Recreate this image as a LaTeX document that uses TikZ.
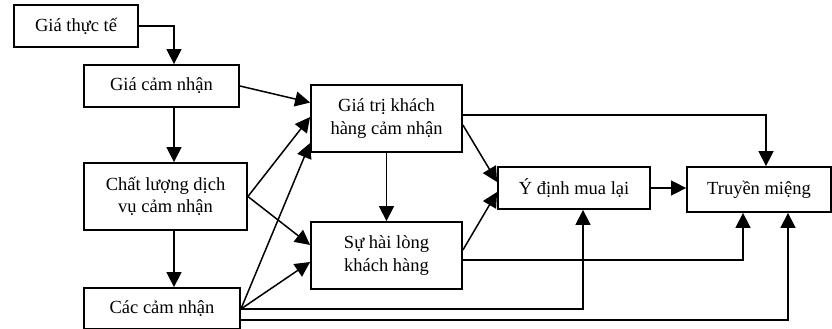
\documentclass[tikz,border=0pt]{standalone}
\usepackage{fontspec}
\setmainfont{Liberation Serif}
\usetikzlibrary{arrows.meta}
\begin{document}
\begin{tikzpicture}[x=1pt,y=-1pt,
  box/.style={draw,line width=1.8pt,inner sep=0pt,align=center,
    font=\fontsize{18.5}{22.2}\selectfont},
  arr/.style={line width=1.5pt,-{Triangle[length=15pt,width=15pt]}}]
\useasboundingbox (0,0) rectangle (832,329);
\coordinate (colx) at (174,0);
\node[box,name=thucte,minimum width=124pt,minimum height=42pt] at (76,26){Giá thực tế};
\node[box,name=gcn,minimum width=155pt,minimum height=42pt] at (161.5,86){Giá cảm nhận};
\node[box,name=cl,minimum width=163pt,minimum height=67pt] at (165.5,196.5){Chất lượng dịch\\vụ cảm nhận};
\node[box,name=ccn,minimum width=156pt,minimum height=41pt] at (162,308.5){Các cảm nhận};
\node[box,name=gtri,minimum width=151pt,minimum height=67pt] at (386.5,118.5){Giá trị khách\\hàng cảm nhận};
\node[box,name=hl,minimum width=151pt,minimum height=67pt] at (386.5,255.5){Sự hài lòng\\khách hàng};
\node[box,name=ydinh,minimum width=152pt,minimum height=42pt] at (574,188){Ý định mua lại};
\node[box,name=tm,minimum width=144pt,minimum height=45pt] at (759,189.5){Truyền miệng};
\draw[arr] (thucte.east) -| (gcn.north -| colx);
\draw[arr] (gcn.south -| colx) -- (cl.north -| colx);
\draw[arr] (cl.south -| colx) -- (ccn.north -| colx);
\draw[arr] (gcn.east) -- ([yshift=16pt]gtri.west);
\draw[arr] (cl.east) -- ([yshift=1.5pt]gtri.west);
\draw[arr] (cl.east) -- ([yshift=10.5pt]hl.west);
\draw[arr] ([yshift=-0.5pt]ccn.east) -- ([yshift=-24.5pt]gtri.west);
\draw[arr] ([yshift=-0.5pt]ccn.east) -- ([yshift=-6.5pt]hl.west);
\draw[arr] (gtri.south) -- (hl.north);
\draw[arr] ([yshift=-6.5pt]gtri.east) -- ([yshift=6pt]ydinh.west);
\draw[arr] ([yshift=5.5pt]hl.east) -- ([yshift=-4pt]ydinh.west);
\draw[arr] (ydinh.east) -- (ydinh.east -| tm.west);
\draw[arr] ([yshift=3.5pt]gtri.east) -| ([xshift=7pt]tm.north);
\draw[arr] ([yshift=-4.5pt]hl.east) -| ([xshift=-16pt]tm.south);
\draw[arr] ([yshift=-0.5pt]ccn.east) -| ([xshift=9pt]ydinh.south);
\draw[arr] ([yshift=-11.5pt]ccn.east) -| ([xshift=29pt]tm.south);
\end{tikzpicture}
\end{document}
